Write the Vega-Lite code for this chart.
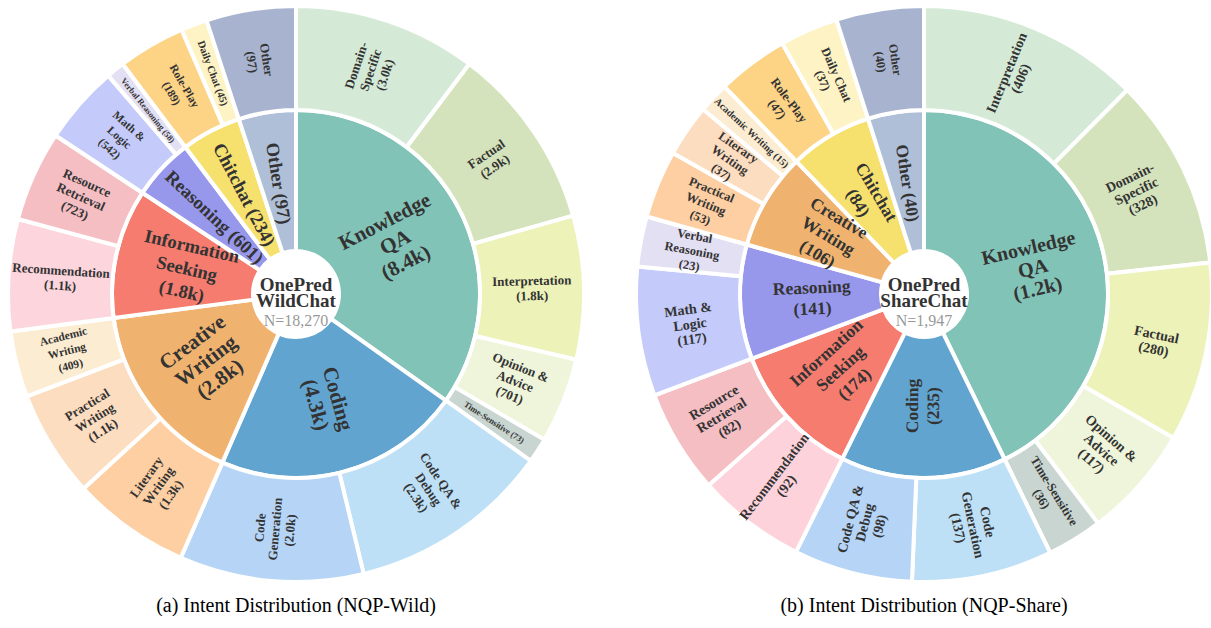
{
  "$schema": "https://vega.github.io/schema/vega-lite/v6.json",
  "padding": {"left": 6, "top": 0, "right": 0, "bottom": 0},
  "spacing": 48,
  "config": {"view": {"stroke": null}, "font": "Liberation Serif"},
  "datasets": {
    "wild_inner": [
      {"name": "Knowledge QA", "label": "Knowledge\nQA\n(8.4k)", "count": 8400, "share": 125.4},
      {"name": "Coding", "label": "Coding\n(4.3k)", "count": 4300, "share": 78.2},
      {"name": "Creative Writing", "label": "Creative\nWriting\n(2.8k)", "count": 2800, "share": 58.9},
      {"name": "Information Seeking", "label": "Information\nSeeking\n(1.8k)", "count": 1800, "share": 40.9},
      {"name": "Reasoning", "label": "Reasoning (601)", "count": 601, "share": 19.6},
      {"name": "Chitchat", "label": "Chitchat (234)", "count": 234, "share": 18.9},
      {"name": "Other", "label": "Other (97)", "count": 97, "share": 18.1}
    ],
    "wild_outer": [
      {"parent": "Knowledge QA", "name": "Domain-Specific", "label": "Domain-\nSpecific\n(3.0k)", "count": 3000, "share": 37.0},
      {"parent": "Knowledge QA", "name": "Factual", "label": "Factual\n(2.9k)", "count": 2900, "share": 37.2},
      {"parent": "Knowledge QA", "name": "Interpretation", "label": "Interpretation\n(1.8k)", "count": 1800, "share": 29.0},
      {"parent": "Knowledge QA", "name": "Opinion & Advice", "label": "Opinion &\nAdvice\n(701)", "count": 701, "share": 17.2},
      {"parent": "Knowledge QA", "name": "Time-Sensitive", "label": "Time-Sensitive (73)", "count": 73, "share": 5.0},
      {"parent": "Coding", "name": "Code QA & Debug", "label": "Code QA &\nDebug\n(2.3k)", "count": 2300, "share": 41.0},
      {"parent": "Coding", "name": "Code Generation", "label": "Code\nGeneration\n(2.0k)", "count": 2000, "share": 37.2},
      {"parent": "Creative Writing", "name": "Literary Writing", "label": "Literary\nWriting\n(1.3k)", "count": 1300, "share": 23.9},
      {"parent": "Creative Writing", "name": "Practical Writing", "label": "Practical\nWriting\n(1.1k)", "count": 1100, "share": 21.7},
      {"parent": "Creative Writing", "name": "Academic Writing", "label": "Academic\nWriting\n(409)", "count": 409, "share": 13.3},
      {"parent": "Information Seeking", "name": "Recommendation", "label": "Recommendation\n(1.1k)", "count": 1100, "share": 22.6},
      {"parent": "Information Seeking", "name": "Resource Retrieval", "label": "Resource\nRetrieval\n(723)", "count": 723, "share": 18.3},
      {"parent": "Reasoning", "name": "Math & Logic", "label": "Math &\nLogic\n(542)", "count": 542, "share": 15.9},
      {"parent": "Reasoning", "name": "Verbal Reasoning", "label": "Verbal Reasoning (58)", "count": 58, "share": 3.7},
      {"parent": "Chitchat", "name": "Role-Play", "label": "Role-Play\n(189)", "count": 189, "share": 13.6},
      {"parent": "Chitchat", "name": "Daily Chat", "label": "Daily Chat (45)", "count": 45, "share": 5.3},
      {"parent": "Other", "name": "Other", "label": "Other\n(97)", "count": 97, "share": 18.1}
    ],
    "wild_center": [{"title": "OnePred\nWildChat", "n": "N=18,270"}],
    "share_inner": [
      {"name": "Knowledge QA", "label": "Knowledge\nQA\n(1.2k)", "count": 1200, "share": 154.0},
      {"name": "Coding", "label": "Coding\n(235)", "count": 235, "share": 52.4},
      {"name": "Information Seeking", "label": "Information\nSeeking\n(174)", "count": 174, "share": 43.0},
      {"name": "Reasoning", "label": "Reasoning\n(141)", "count": 141, "share": 36.2},
      {"name": "Creative Writing", "label": "Creative\nWriting\n(106)", "count": 106, "share": 30.5},
      {"name": "Chitchat", "label": "Chitchat\n(84)", "count": 84, "share": 26.2},
      {"name": "Other", "label": "Other (40)", "count": 40, "share": 17.7}
    ],
    "share_outer": [
      {"parent": "Knowledge QA", "name": "Interpretation", "label": "Interpretation\n(406)", "count": 406, "share": 44.9},
      {"parent": "Knowledge QA", "name": "Domain-Specific", "label": "Domain-\nSpecific\n(328)", "count": 328, "share": 38.8},
      {"parent": "Knowledge QA", "name": "Factual", "label": "Factual\n(280)", "count": 280, "share": 36.3},
      {"parent": "Knowledge QA", "name": "Opinion & Advice", "label": "Opinion &\nAdvice\n(117)", "count": 117, "share": 22.8},
      {"parent": "Knowledge QA", "name": "Time-Sensitive", "label": "Time-Sensitive\n(36)", "count": 36, "share": 11.2},
      {"parent": "Coding", "name": "Code Generation", "label": "Code\nGeneration\n(137)", "count": 137, "share": 28.4},
      {"parent": "Coding", "name": "Code QA & Debug", "label": "Code QA &\nDebug\n(98)", "count": 98, "share": 24.0},
      {"parent": "Information Seeking", "name": "Recommendation", "label": "Recommendation\n(92)", "count": 92, "share": 22.0},
      {"parent": "Information Seeking", "name": "Resource Retrieval", "label": "Resource\nRetrieval\n(82)", "count": 82, "share": 21.0},
      {"parent": "Reasoning", "name": "Math & Logic", "label": "Math &\nLogic\n(117)", "count": 117, "share": 26.1},
      {"parent": "Reasoning", "name": "Verbal Reasoning", "label": "Verbal\nReasoning\n(23)", "count": 23, "share": 10.1},
      {"parent": "Creative Writing", "name": "Practical Writing", "label": "Practical\nWriting\n(53)", "count": 53, "share": 13.7},
      {"parent": "Creative Writing", "name": "Literary Writing", "label": "Literary\nWriting\n(37)", "count": 37, "share": 10.6},
      {"parent": "Creative Writing", "name": "Academic Writing", "label": "Academic Writing (15)", "count": 15, "share": 6.2},
      {"parent": "Chitchat", "name": "Role-Play", "label": "Role-Play\n(47)", "count": 47, "share": 14.4},
      {"parent": "Chitchat", "name": "Daily Chat", "label": "Daily Chat\n(37)", "count": 37, "share": 11.8},
      {"parent": "Other", "name": "Other", "label": "Other\n(40)", "count": 40, "share": 17.7}
    ],
    "share_center": [{"title": "OnePred\nShareChat", "n": "N=1,947"}]
  },
  "resolve": {"scale": {"color": "independent", "size": "independent", "theta": "independent"}},
  "hconcat": [
    {
      "width": 576,
      "height": 588,
      "title": {"text": "(a) Intent Distribution (NQP-Wild)", "orient": "bottom", "offset": 8, "fontSize": 20, "fontWeight": "normal", "font": "Liberation Serif", "color": "#000000"},
      "resolve": {"scale": {"color": "independent", "size": "independent"}},
      "layer": [
        {
          "data": {"name": "wild_inner"},
          "transform": [{"window": [{"op": "row_number", "as": "k"}]}],
          "layer": [
            {
              "mark": {"type": "arc", "innerRadius": 43, "outerRadius": 184, "stroke": "white", "strokeWidth": 4, "strokeJoin": "bevel"},
              "encoding": {
                "theta": {"field": "share", "type": "quantitative", "stack": true, "scale": {"domain": [0, 360]}},
                "order": {"field": "k", "type": "quantitative"},
                "color": {"field": "name", "type": "nominal", "legend": null,
                  "scale": {"domain": ["Knowledge QA", "Coding", "Creative Writing", "Information Seeking", "Reasoning", "Chitchat", "Other"],
                            "range": ["#82C3B7", "#62A4D0", "#F0B36F", "#F57C6E", "#9797EC", "#F6E06E", "#B0BFD8"]}}
              }
            },
            {
              "mark": {"type": "text", "radius": 112, "font": "Liberation Serif", "fontWeight": "bold", "color": "#333333", "align": "center", "baseline": "middle", "lineBreak": "\n", "lineHeight": 23,
                "dy": {"expr": "-(length(split(datum.label, '\\n')) - 1) * 11.5"},
                "angle": {"expr": "(datum.share_start + datum.share_end) > 360 ? (datum.share_start + datum.share_end) / 2 - 270 : (datum.share_start + datum.share_end) / 2 - 90"}},
              "encoding": {
                "theta": {"field": "share", "type": "quantitative", "stack": true, "scale": {"domain": [0, 360]}},
                "order": {"field": "k", "type": "quantitative"},
                "text": {"field": "label", "type": "nominal"},
                "size": {"field": "share", "type": "quantitative", "legend": null, "scale": {"type": "threshold", "domain": [50], "range": [18.5, 21]}}
              }
            }
          ]
        },
        {
          "data": {"name": "wild_outer"},
          "transform": [{"window": [{"op": "row_number", "as": "k"}]}],
          "layer": [
            {
              "mark": {"type": "arc", "innerRadius": 184, "outerRadius": 288, "stroke": "white", "strokeWidth": 4, "strokeJoin": "bevel"},
              "encoding": {
                "theta": {"field": "share", "type": "quantitative", "stack": true, "scale": {"domain": [0, 360]}},
                "order": {"field": "k", "type": "quantitative"},
                "color": {"field": "name", "type": "nominal", "legend": null,
                  "scale": {"domain": ["Domain-Specific", "Factual", "Interpretation", "Opinion & Advice", "Time-Sensitive", "Code QA & Debug", "Code Generation", "Literary Writing", "Practical Writing", "Academic Writing", "Recommendation", "Resource Retrieval", "Math & Logic", "Verbal Reasoning", "Role-Play", "Daily Chat", "Other"],
                            "range": ["#D4EAD7", "#D5E3BC", "#EDF2B8", "#EEF5DA", "#C8D5D0", "#BDE0F6", "#B5D4F6", "#FDCFA2", "#FDDDC0", "#FCEDD2", "#FDD5DD", "#F4BEC3", "#C4CBFA", "#E3E0F3", "#FDD486", "#FEF3C4", "#A8B4CF"]}}
              }
            },
            {
              "mark": {"type": "text", "radius": 236, "font": "Liberation Serif", "fontWeight": "bold", "color": "#333333", "align": "center", "baseline": "middle", "lineBreak": "\n", "lineHeight": 15,
                "dy": {"expr": "-(length(split(datum.label, '\\n')) - 1) * 7.5"},
                "angle": {"expr": "(datum.share_start + datum.share_end) > 360 ? (datum.share_start + datum.share_end) / 2 - 270 : (datum.share_start + datum.share_end) / 2 - 90"}},
              "encoding": {
                "theta": {"field": "share", "type": "quantitative", "stack": true, "scale": {"domain": [0, 360]}},
                "order": {"field": "k", "type": "quantitative"},
                "text": {"field": "label", "type": "nominal"},
                "size": {"field": "share", "type": "quantitative", "legend": null, "scale": {"type": "threshold", "domain": [5.2, 10, 16], "range": [8.5, 10.5, 11.5, 13]}}
              }
            }
          ]
        },
        {
          "data": {"name": "wild_center"},
          "layer": [
            {
              "mark": {"type": "text", "font": "Liberation Serif", "fontWeight": "bold", "fontSize": 19, "lineHeight": 16, "color": "#333333", "align": "center", "baseline": "middle", "lineBreak": "\n", "dy": -9},
              "encoding": {"text": {"field": "title", "type": "nominal"}, "theta": {"value": 0}, "radius": {"value": 0}}
            },
            {
              "mark": {"type": "text", "font": "Liberation Serif", "fontSize": 16, "color": "#999999", "align": "center", "baseline": "middle", "dy": 27},
              "encoding": {"text": {"field": "n", "type": "nominal"}, "theta": {"value": 0}, "radius": {"value": 0}}
            }
          ]
        }
      ]
    },
    {
      "width": 576,
      "height": 588,
      "title": {"text": "(b) Intent Distribution (NQP-Share)", "orient": "bottom", "offset": 8, "fontSize": 20, "fontWeight": "normal", "font": "Liberation Serif", "color": "#000000"},
      "resolve": {"scale": {"color": "independent", "size": "independent"}},
      "layer": [
        {
          "data": {"name": "share_inner"},
          "transform": [{"window": [{"op": "row_number", "as": "k"}]}],
          "layer": [
            {
              "mark": {"type": "arc", "innerRadius": 43, "outerRadius": 184, "stroke": "white", "strokeWidth": 4, "strokeJoin": "bevel"},
              "encoding": {
                "theta": {"field": "share", "type": "quantitative", "stack": true, "scale": {"domain": [0, 360]}},
                "order": {"field": "k", "type": "quantitative"},
                "color": {"field": "name", "type": "nominal", "legend": null,
                  "scale": {"domain": ["Knowledge QA", "Coding", "Creative Writing", "Information Seeking", "Reasoning", "Chitchat", "Other"],
                            "range": ["#82C3B7", "#62A4D0", "#F0B36F", "#F57C6E", "#9797EC", "#F6E06E", "#B0BFD8"]}}
              }
            },
            {
              "mark": {"type": "text", "radius": 112, "font": "Liberation Serif", "fontWeight": "bold", "color": "#333333", "align": "center", "baseline": "middle", "lineBreak": "\n", "lineHeight": 21,
                "dy": {"expr": "-(length(split(datum.label, '\\n')) - 1) * 10.5"},
                "angle": {"expr": "(datum.share_start + datum.share_end) > 360 ? (datum.share_start + datum.share_end) / 2 - 270 : (datum.share_start + datum.share_end) / 2 - 90"}},
              "encoding": {
                "theta": {"field": "share", "type": "quantitative", "stack": true, "scale": {"domain": [0, 360]}},
                "order": {"field": "k", "type": "quantitative"},
                "text": {"field": "label", "type": "nominal"},
                "size": {"field": "share", "type": "quantitative", "legend": null, "scale": {"type": "threshold", "domain": [100], "range": [17.5, 20]}}
              }
            }
          ]
        },
        {
          "data": {"name": "share_outer"},
          "transform": [{"window": [{"op": "row_number", "as": "k"}]}],
          "layer": [
            {
              "mark": {"type": "arc", "innerRadius": 184, "outerRadius": 288, "stroke": "white", "strokeWidth": 4, "strokeJoin": "bevel"},
              "encoding": {
                "theta": {"field": "share", "type": "quantitative", "stack": true, "scale": {"domain": [0, 360]}},
                "order": {"field": "k", "type": "quantitative"},
                "color": {"field": "name", "type": "nominal", "legend": null,
                  "scale": {"domain": ["Interpretation", "Domain-Specific", "Factual", "Opinion & Advice", "Time-Sensitive", "Code Generation", "Code QA & Debug", "Recommendation", "Resource Retrieval", "Math & Logic", "Verbal Reasoning", "Practical Writing", "Literary Writing", "Academic Writing", "Role-Play", "Daily Chat", "Other"],
                            "range": ["#D4EAD7", "#D5E3BC", "#EDF2B8", "#EEF5DA", "#C8D5D0", "#BDE0F6", "#B5D4F6", "#FDD2DB", "#F4BEC3", "#C4CBFA", "#E3E0F3", "#FDCFA2", "#FDDDC0", "#FCEDD2", "#FDD486", "#FEF3C4", "#A8B4CF"]}}
              }
            },
            {
              "mark": {"type": "text", "radius": 236, "font": "Liberation Serif", "fontWeight": "bold", "color": "#333333", "align": "center", "baseline": "middle", "lineBreak": "\n", "lineHeight": 15,
                "dy": {"expr": "-(length(split(datum.label, '\\n')) - 1) * 7.5"},
                "angle": {"expr": "(datum.share_start + datum.share_end) > 360 ? (datum.share_start + datum.share_end) / 2 - 270 : (datum.share_start + datum.share_end) / 2 - 90"}},
              "encoding": {
                "theta": {"field": "share", "type": "quantitative", "stack": true, "scale": {"domain": [0, 360]}},
                "order": {"field": "k", "type": "quantitative"},
                "text": {"field": "label", "type": "nominal"},
                "size": {"field": "share", "type": "quantitative", "legend": null, "scale": {"type": "threshold", "domain": [8, 20], "range": [10, 12.5, 14]}}
              }
            }
          ]
        },
        {
          "data": {"name": "share_center"},
          "layer": [
            {
              "mark": {"type": "text", "font": "Liberation Serif", "fontWeight": "bold", "fontSize": 19, "lineHeight": 16, "color": "#333333", "align": "center", "baseline": "middle", "lineBreak": "\n", "dy": -9},
              "encoding": {"text": {"field": "title", "type": "nominal"}, "theta": {"value": 0}, "radius": {"value": 0}}
            },
            {
              "mark": {"type": "text", "font": "Liberation Serif", "fontSize": 16, "color": "#999999", "align": "center", "baseline": "middle", "dy": 27},
              "encoding": {"text": {"field": "n", "type": "nominal"}, "theta": {"value": 0}, "radius": {"value": 0}}
            }
          ]
        }
      ]
    }
  ]
}
